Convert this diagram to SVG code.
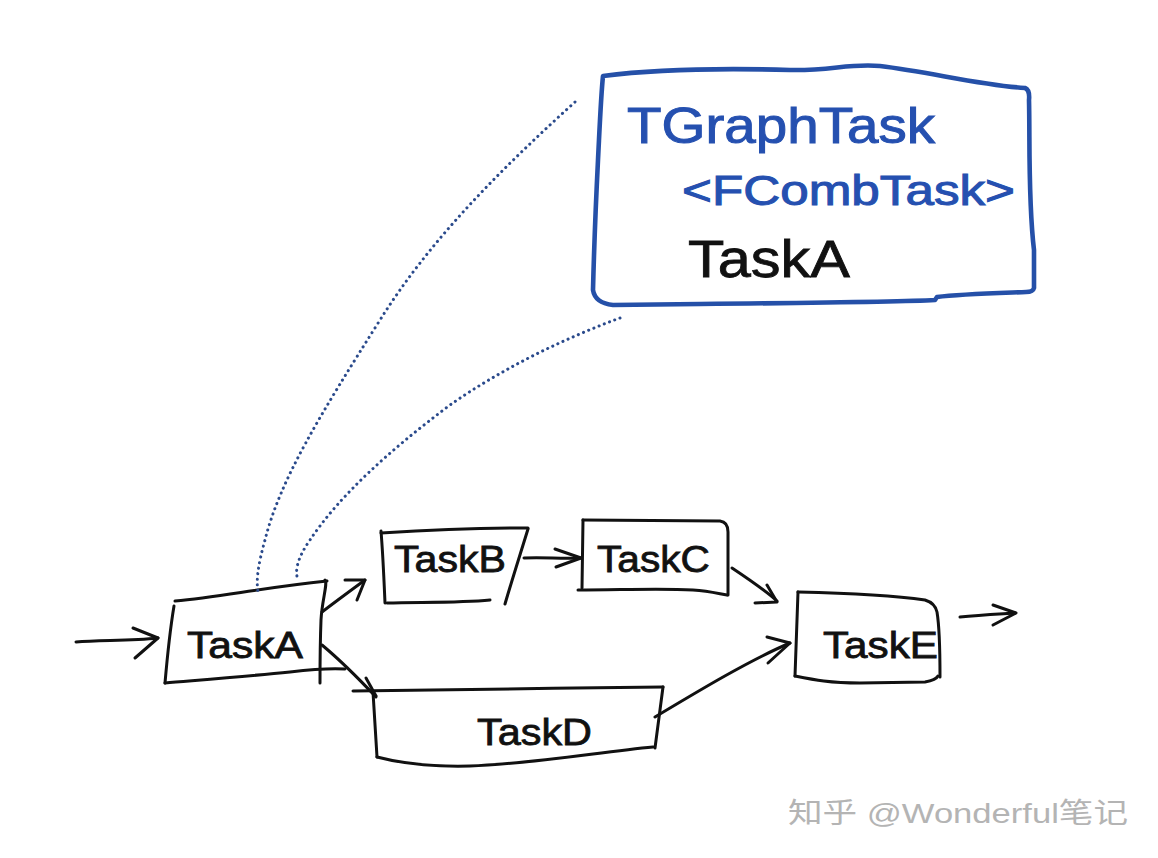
<svg xmlns="http://www.w3.org/2000/svg" width="1158" height="858" viewBox="0 0 1158 858">
<style>
.ink{fill:none;stroke:#111;stroke-width:3;stroke-linecap:round;stroke-linejoin:round}
.blue{fill:none;stroke:#2550a8;stroke-width:4.6;stroke-linecap:round;stroke-linejoin:round}
.dot{fill:none;stroke:#2a4a8c;stroke-width:3;stroke-linecap:round;stroke-dasharray:0.1 5.5}
.lbl{font-family:"Liberation Sans","DejaVu Sans",sans-serif;fill:#111;stroke:#111;stroke-width:0.8}
.btxt{font-family:"Liberation Sans","DejaVu Sans",sans-serif;fill:#2550b0;stroke:#2550b0;stroke-width:1}
.wm{font-family:"Liberation Sans","Noto Sans CJK SC",sans-serif;fill:#b4b4b4}
</style>
<rect width="1158" height="858" fill="#fff"/>

<g id="note">
<path class="blue" d="M603,76 C 650,70 720,68 790,70 C 830,71 850,63 880,66 C 930,72 980,85 1025,88 Q1030,90 1029,100 C 1030,140 1028,200 1034,250 L1034,288 Q1033,292 1026,292 C 1000,293 960,294 937,297 L935,300 C 900,302 800,303 700,304 L613,305 Q595,303 593,290 C 594,250 596,200 598,160 C 600,120 601,95 603,76 Z"/>
<text class="btxt" x="627" y="143" font-size="50" textLength="308" lengthAdjust="spacingAndGlyphs">TGraphTask</text>
<text class="btxt" x="682" y="205" font-size="42" textLength="333" lengthAdjust="spacingAndGlyphs">&lt;FCombTask&gt;</text>
<text class="lbl" x="688" y="277" font-size="51" textLength="162" lengthAdjust="spacingAndGlyphs">TaskA</text>
</g>

<g id="taskA">
<path class="ink" d="M175,601 C 220,597 260,588 327,581"/>
<path class="ink" d="M325,580 C 328,583 322,600 321,620 C 320,645 320,665 320,683"/>
<path class="ink" d="M174,606 C 170,630 167,660 165,683"/>
<path class="ink" d="M165,683 C 200,680 250,676 290,672 C 315,669 330,668 345,669"/>
<text class="lbl" x="187" y="658" font-size="36" textLength="116" lengthAdjust="spacingAndGlyphs">TaskA</text>
</g>

<g id="taskB">
<path class="ink" d="M381,533 C 430,530 480,528 528,528"/>
<path class="ink" d="M381,531 C 383,555 384,580 385,603"/>
<path class="ink" d="M387,603 C 420,602 460,603 490,600"/>
<path class="ink" d="M528,529 C 520,555 512,580 505,604"/>
<text class="lbl" x="394" y="572" font-size="37" textLength="112" lengthAdjust="spacingAndGlyphs">TaskB</text>
</g>

<g id="taskC">
<path class="ink" d="M583,520 L720,521 Q728,522 728,532 L728,595"/>
<path class="ink" d="M583,520 L582,588"/>
<path class="ink" d="M578,590 C 620,590 660,588 693,590 C 710,591 720,594 727,595"/>
<text class="lbl" x="597" y="572" font-size="37" textLength="113" lengthAdjust="spacingAndGlyphs">TaskC</text>
</g>

<g id="taskD">
<path class="ink" d="M353,691 C 450,690 560,688 663,687"/>
<path class="ink" d="M373,692 L377,757"/>
<path class="ink" d="M377,757 C 400,763 430,767 470,766 C 530,764 600,752 653,747"/>
<path class="ink" d="M663,687 L655,748"/>
<text class="lbl" x="477" y="745" font-size="37" textLength="115" lengthAdjust="spacingAndGlyphs">TaskD</text>
</g>

<g id="taskE">
<path class="ink" d="M798,592 C 840,593 890,595 925,600 Q935,603 937,612 C 940,630 940,655 940,677"/>
<path class="ink" d="M798,592 L795,676"/>
<path class="ink" d="M795,676 C 815,680 830,683 860,683 L925,682 Q936,680 938,676"/>
<text class="lbl" x="823" y="658" font-size="36" textLength="115" lengthAdjust="spacingAndGlyphs">TaskE</text>
</g>

<g id="connectors">
<path class="dot" d="M575,102 C 500,170 430,240 380,320 C 320,415 280,480 265,540 C 258,565 256,580 258,592"/>
<path class="dot" d="M620,318 C 560,340 500,370 450,405 C 390,450 340,495 310,540 C 296,560 295,572 298,580"/>
<path class="ink" d="M76,642 C 100,640 130,641 158,638"/>
<path class="ink" d="M133,628 L158,638 L135,658"/>
<path class="ink" d="M322,612 C 335,602 350,591 365,580"/>
<path class="ink" d="M345,580 L365,580 L357,600"/>
<path class="ink" d="M322,645 C 340,660 360,680 376,697"/>
<path class="ink" d="M366,678 L376,696"/>
<path class="ink" d="M524,558 C 545,557 560,559 580,558"/>
<path class="ink" d="M555,549 L581,558 L556,567"/>
<path class="ink" d="M732,568 C 750,580 765,590 777,601"/>
<path class="ink" d="M767,585 L777,602 L755,603"/>
<path class="ink" d="M655,717 C 700,690 750,660 790,643"/>
<path class="ink" d="M767,637 L790,643 L768,663"/>
<path class="ink" d="M960,617 C 980,615 1000,614 1015,613"/>
<path class="ink" d="M993,605 L1016,613 L993,625"/>
</g>

<text class="wm" x="788" y="823" font-size="28" textLength="340" lengthAdjust="spacingAndGlyphs">知乎 @Wonderful笔记</text>
</svg>
